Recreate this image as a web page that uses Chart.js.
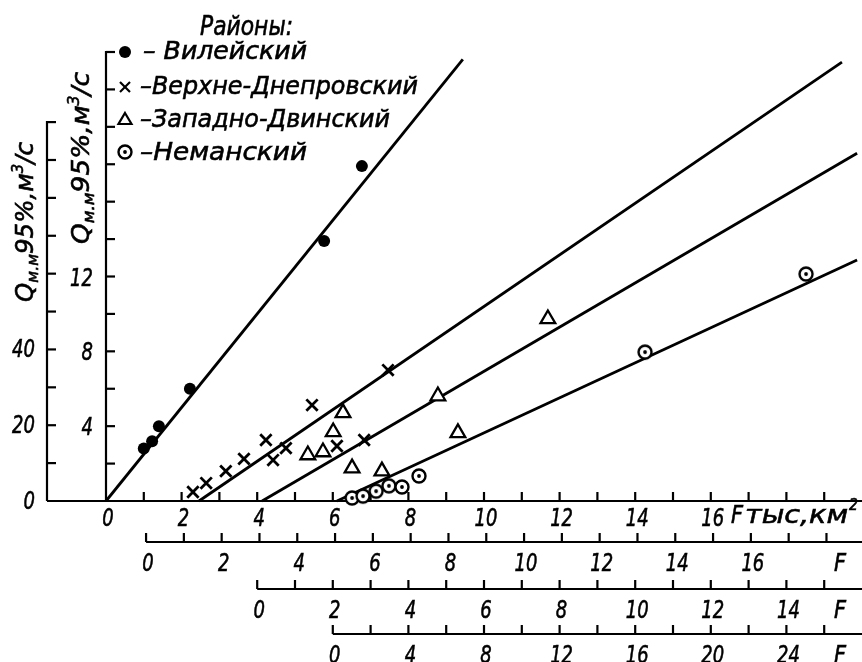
<!DOCTYPE html>
<html><head><meta charset="utf-8">
<script src="https://cdn.jsdelivr.net/npm/chart.js@4/dist/chart.umd.min.js"></script>
<style>html,body{margin:0;padding:0;background:#fff}canvas{display:block}</style>
</head><body>
<canvas id="c" width="862" height="662"></canvas>
<script>
// ---------- data ----------
// Вилейский: F on main axis (тыс. км²), Q on inner axis
const vileiskyF = [1.0, 1.22, 1.4, 2.22, 5.77, 6.77];
const vileiskyQ = [2.8, 3.2, 4.0, 6.0, 13.9, 17.9];
const vileiskyLineF = [0, 9.44];
const vileiskyLineQ = [0, 23.6];
// Верхне-Днепровский: F on 2nd axis, Q on inner axis
const dneprF = [1.24, 1.59, 2.11, 2.59, 3.17, 3.36, 3.70, 4.39, 5.05, 5.77, 6.40];
const dneprQ = [0.48, 0.96, 1.60, 2.25, 3.26, 2.19, 2.83, 5.13, 2.94, 3.26, 7.0];
const dneprLineF = [1.40, 18.41];
const dneprLineQ = [0, 23.46];
// Западно-Двинский: F on 3rd axis, Q on inner axis
const dvinaF = [1.34, 1.74, 2.01, 2.27, 2.51, 3.30, 4.78, 5.31, 7.69];
const dvinaQ = [2.46, 2.62, 3.69, 4.71, 1.76, 1.60, 5.61, 3.64, 9.73];
const dvinaLineF = [0.13, 15.87];
const dvinaLineQ = [0, 18.59];
// Неманский: F on 4th axis, Q on outer axis
const nemanF = [1.02, 1.60, 2.29, 2.97, 3.66, 4.56, 16.52, 25.04];
const nemanQ = [0.8, 1.3, 2.6, 4.0, 3.7, 6.6, 39.3, 59.9];
const nemanLineF = [0.22, 27.74];
const nemanLineQ = [0, 63.6];

// tick labels
const xMainLabels = [0, 2, 4, 6, 8, 10, 12, 14, 16];
const x2Labels = [0, 2, 4, 6, 8, 10, 12, 14, 16];
const x3Labels = [0, 2, 4, 6, 8, 10, 12, 14];
const x4Labels = [0, 4, 8, 12, 16, 20, 24];
const yInnerLabels = [4, 8, 12];
const yOuterLabels = [0, 20, 40];
const legendNames = ['Вилейский', 'Верхне-Днепровский', 'Западно-Двинский', 'Неманский'];

const zip = (a, b) => a.map((v, i) => ({x: v, y: b[i]}));

// circle with dot marker
const dotCircle = document.createElement('canvas');
dotCircle.width = 18; dotCircle.height = 18;
(function(){
  const g = dotCircle.getContext('2d');
  g.fillStyle = '#fff'; g.strokeStyle = '#000'; g.lineWidth = 2.4;
  g.beginPath(); g.arc(9, 9, 6.5, 0, Math.PI*2); g.fill(); g.stroke();
  g.fillStyle = '#000'; g.beginPath(); g.arc(9, 9, 1.9, 0, Math.PI*2); g.fill();
})();

const FONT = '"DejaVu Sans", "Liberation Sans", sans-serif';
const TSTROKE = 0.6;

function txt(ctx, s, x, y, size, align, w, sx) {
  ctx.save();
  ctx.font = 'italic ' + size + 'px ' + FONT;
  const m = ctx.measureText(s).width;
  let k = sx || 1;
  if (w) k = w / m;
  const tw = m * k;
  let x0 = x;
  if (align === 'center') x0 = x - tw/2;
  else if (align === 'right') x0 = x - tw;
  ctx.translate(x0, y);
  ctx.scale(k, 1);
  ctx.textAlign = 'left';
  ctx.lineWidth = TSTROKE;
  ctx.fillText(s, 0, 0);
  ctx.strokeText(s, 0, 0);
  ctx.restore();
}

function rich(ctx, parts, cx, cy, total, rot) {
  ctx.save();
  ctx.translate(cx, cy);
  if (rot) ctx.rotate(rot);
  let widths = parts.map(p => { ctx.font = 'italic ' + p[1] + 'px ' + FONT; return ctx.measureText(p[0]).width; });
  const nat = widths.reduce((a, b) => a + b, 0);
  const k = total ? total / nat : 1;
  ctx.scale(k, 1);
  let x = -nat/2;
  ctx.textAlign = 'left';
  ctx.textBaseline = 'alphabetic';
  ctx.lineWidth = TSTROKE;
  parts.forEach((p, i) => {
    ctx.font = 'italic ' + p[1] + 'px ' + FONT;
    ctx.fillText(p[0], x, p[2]);
    ctx.strokeText(p[0], x, p[2]);
    x += widths[i];
  });
  ctx.restore();
}

const titleParts = [['Q', 25, 9], ['м.м', 16, 14], ['95%,м', 25, 9], ['3', 15, -1], ['/с', 25, 9]];

const decor = {
  id: 'decor',
  beforeDatasetsDraw(chart) {
    const ctx = chart.ctx, s = chart.scales;
    const X = s.x, X2 = s.x2, X3 = s.x3, X4 = s.x4, Y = s.y, Y2 = s.y2;
    ctx.save();
    ctx.strokeStyle = '#000'; ctx.fillStyle = '#000';
    ctx.lineWidth = 2.2; ctx.lineCap = 'butt';
    const seg = (a, b, c, d) => { ctx.lineWidth = 2.2; ctx.beginPath(); ctx.moveTo(a, b); ctx.lineTo(c, d); ctx.stroke(); };
    const y0 = Y.getPixelForValue(0);
    const xIn = X.getPixelForValue(0);
    const xOut = 47;
    const TL = 9;
    const right = X.right;
    const DS = 25, DK = 0.72;

    // base line (main F axis)
    seg(xOut, y0, right, y0);
    for (let v = 1; v <= 19; v++) { const px = X.getPixelForValue(v); seg(px, y0, px, y0 - TL); }
    xMainLabels.forEach(v => txt(ctx, String(v), X.getPixelForValue(v) + 2, y0 + 25, DS, 'center', null, DK));
    txt(ctx, 'F', 731, y0 + 22, 24, 'left', 12);
    txt(ctx, 'тыс,км', 745, y0 + 22, 25, 'left', 103);
    txt(ctx, '2', 849, y0 + 9, 16, 'left', 9);

    // lower axes
    const rows = [
      {sc: X2, dy: 41, from: 0, to: 18, step: 1, labels: x2Labels},
      {sc: X3, dy: 88, from: 0, to: 15, step: 1, labels: x3Labels},
      {sc: X4, dy: 133, from: 0, to: 26, step: 2, labels: x4Labels}
    ];
    rows.forEach(r => {
      const yy = y0 + r.dy;
      seg(r.sc.getPixelForValue(0), yy, right, yy);
      for (let v = r.from; v <= r.to; v += r.step) { const px = r.sc.getPixelForValue(v); seg(px, yy, px, yy - TL); }
      r.labels.forEach(v => txt(ctx, String(v), r.sc.getPixelForValue(v) + 2, yy + 29, DS, 'center', null, DK));
      txt(ctx, 'F', 840, yy + 29, 24, 'center', 12);
    });

    // inner y axis (0..24)
    seg(xIn, y0, xIn, Y.getPixelForValue(24) - 1);
    for (let v = 2; v <= 24; v += 2) { const py = Y.getPixelForValue(v); seg(xIn, py, xIn + TL, py); }
    yInnerLabels.forEach(v => txt(ctx, String(v), 93, Y.getPixelForValue(v) + 9, DS, 'right', null, DK));
    // outer y axis (0..100)
    seg(xOut, y0, xOut, Y2.getPixelForValue(100) - 1);
    for (let v = 10; v <= 100; v += 10) { const py = Y2.getPixelForValue(v); seg(xOut, py, xOut + TL, py); }
    yOuterLabels.forEach(v => txt(ctx, String(v), 35, Y2.getPixelForValue(v) + 8, DS, 'right', null, DK));

    // axis titles
    rich(ctx, titleParts, 24, 222, 160, -Math.PI/2);
    rich(ctx, titleParts, 80, 158, 172, -Math.PI/2);

    // legend
    txt(ctx, 'Районы:', 200, 35, 26, 'left', 93);
    const lx = 125;
    const ly = [52, 87, 119, 152];
    const lb = [59, 94, 127, 160];
    ctx.beginPath(); ctx.arc(lx, ly[0], 6, 0, Math.PI*2); ctx.fill();
    seg(lx - 5, ly[1] - 5, lx + 5, ly[1] + 5); seg(lx - 5, ly[1] + 5, lx + 5, ly[1] - 5);
    ctx.lineWidth = 2.2;
    ctx.beginPath(); ctx.moveTo(lx, ly[2] - 6); ctx.lineTo(lx + 6.5, ly[2] + 5); ctx.lineTo(lx - 6.5, ly[2] + 5); ctx.closePath(); ctx.stroke();
    ctx.drawImage(dotCircle, lx - 9, ly[3] - 9);
    txt(ctx, '– ' + legendNames[0], 143, lb[0], 25, 'left', 164);
    txt(ctx, '–' + legendNames[1], 140, lb[1], 25, 'left', 278);
    txt(ctx, '–' + legendNames[2], 140, lb[2], 25, 'left', 250);
    txt(ctx, '–' + legendNames[3], 140, lb[3], 25, 'left', 167);
    ctx.restore();
  }
};

const lineStyle = {showLine: true, pointRadius: 0, borderColor: '#000', borderWidth: 2.8, fill: false, order: 2, clip: false};
const ptBase = {showLine: false, borderColor: '#000', order: 0, clip: false};

new Chart(document.getElementById('c'), {
  type: 'scatter',
  data: {
    datasets: [
      Object.assign({label: legendNames[0], data: zip(vileiskyF, vileiskyQ), xAxisID: 'x', yAxisID: 'y',
        pointStyle: 'circle', pointRadius: 6, backgroundColor: '#000', borderWidth: 0}, ptBase),
      Object.assign({label: legendNames[1], data: zip(dneprF, dneprQ), xAxisID: 'x2', yAxisID: 'y',
        pointStyle: 'crossRot', pointRadius: 8, borderWidth: 2.8, backgroundColor: '#000'}, ptBase),
      Object.assign({label: legendNames[2], data: zip(dvinaF, dvinaQ), xAxisID: 'x3', yAxisID: 'y',
        pointStyle: 'triangle', pointRadius: 8.5, borderWidth: 2.3, backgroundColor: '#fff'}, ptBase),
      Object.assign({label: legendNames[3], data: zip(nemanF, nemanQ), xAxisID: 'x4', yAxisID: 'y2',
        pointStyle: dotCircle, pointRadius: 7, backgroundColor: '#fff', borderWidth: 2}, ptBase),
      Object.assign({label: 'l1', data: zip(vileiskyLineF, vileiskyLineQ), xAxisID: 'x', yAxisID: 'y'}, lineStyle),
      Object.assign({label: 'l2', data: zip(dneprLineF, dneprLineQ), xAxisID: 'x2', yAxisID: 'y'}, lineStyle),
      Object.assign({label: 'l3', data: zip(dvinaLineF, dvinaLineQ), xAxisID: 'x3', yAxisID: 'y'}, lineStyle),
      Object.assign({label: 'l4', data: zip(nemanLineF, nemanLineQ), xAxisID: 'x4', yAxisID: 'y2'}, lineStyle)
    ]
  },
  options: {
    responsive: false, animation: false, devicePixelRatio: 1,
    layout: {autoPadding: false, padding: {left: 106, top: 52, right: 0, bottom: 161}},
    plugins: {legend: {display: false}, tooltip: {enabled: false}},
    scales: {
      x: {type: 'linear', position: 'bottom', min: 0, max: 20, display: false},
      x2: {type: 'linear', position: 'bottom', min: -1.06, max: 18.94, display: false},
      x3: {type: 'linear', position: 'bottom', min: -4, max: 16, display: false},
      x4: {type: 'linear', position: 'bottom', min: -12, max: 28, display: false},
      y: {type: 'linear', position: 'left', min: 0, max: 24, display: false},
      y2: {type: 'linear', position: 'left', min: 0, max: 118.5, display: false}
    }
  },
  plugins: [decor]
});
</script>
</body></html>
